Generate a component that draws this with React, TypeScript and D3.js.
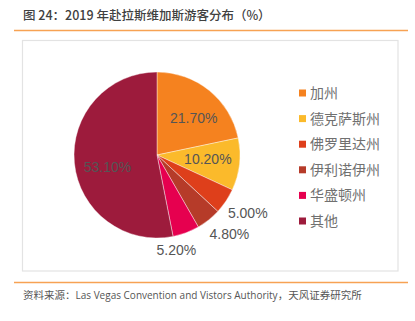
import React from "react";
import * as d3 from "d3";

const categories = ["加州", "德克萨斯州", "佛罗里达州", "伊利诺伊州", "华盛顿州", "其他"];
const values = [21.7, 10.2, 5.0, 4.8, 5.2, 53.1];
const colors = ["#F5821F", "#FBBA2B", "#DE3F1B", "#B63B29", "#E6004F", "#9D1B3C"];
const labelRadius = [52, 51, 108, 107, 97, 51];
const labelNudgeDeg = [6, -2, -1, -4, 9, -8];

const W = 415;
const H = 321;
const cx = 157;
const cy = 155;
const R = 83;
const CJK = "'Noto Sans CJK SC', 'Noto Sans', sans-serif";

export default function App() {
  const pie = d3.pie<number>().sort(null).value((d) => d)(values);
  const arc = d3.arc<d3.PieArcDatum<number>>().innerRadius(0).outerRadius(R);
  const legendY = d3.scalePoint<string>().domain(categories).range([93, 221]);

  return (
    <svg
      width={W}
      height={H}
      style={{ position: "absolute", left: 0, top: 0, background: "#fff" }}
    >
      <text x={23} y={20} fontFamily={CJK} fontSize={12.5} fontWeight={500} fill="#404040">
        图 24：2019 年赴拉斯维加斯游客分布（%）
      </text>
      <line x1={14} x2={408} y1={30.5} y2={30.5} stroke="#F7A253" strokeWidth={1.5} />
      <rect x={22.5} y={40.5} width={375.5} height={230.5} fill="none" stroke="#E3E3E3" strokeWidth={1.2} />
      <g transform={`translate(${cx},${cy})`}>
        {pie.map((p, i) => (
          <path key={i} d={arc(p) || ""} fill={colors[i]} stroke="#fff" strokeWidth={0.4} />
        ))}
        {pie.map((p, i) => {
          const mid = (p.startAngle + p.endAngle) / 2 + (labelNudgeDeg[i] * Math.PI) / 180;
          const r = labelRadius[i];
          const x = Math.sin(mid) * r;
          const y = -Math.cos(mid) * r;
          return (
            <text
              key={"l" + i}
              x={x}
              y={y}
              dy="0.35em"
              textAnchor="middle"
              fontFamily="'Liberation Sans', Arial, sans-serif"
              fontSize={14}
              fill="#555"
            >
              {values[i].toFixed(2)}%
            </text>
          );
        })}
      </g>
      {categories.map((c, i) => (
        <g key={c} transform={`translate(299,${legendY(c)})`}>
          <rect x={0} y={-3.5} width={7} height={7} fill={colors[i]} />
          <text x={11} y={0} dy="0.36em" fontFamily={CJK} fontSize={14} fill="#707070">
            {c}
          </text>
        </g>
      ))}
      <line x1={14} x2={408} y1={282.5} y2={282.5} stroke="#F7A253" strokeWidth={1.5} />
      <text x={23} y={299} fontFamily={CJK} fontSize={10.5} fill="#555">
        资料来源：
        <tspan fontFamily="'Open Sans', sans-serif" fontSize={10}>Las Vegas Convention and Vistors Authority</tspan>
        ，天风证券研究所
      </text>
    </svg>
  );
}
